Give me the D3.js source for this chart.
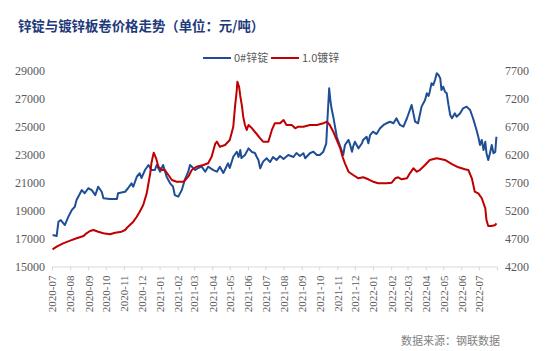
<!DOCTYPE html>
<html><head><meta charset="utf-8">
<script src="https://cdn.jsdelivr.net/npm/d3@7"></script>
<style>html,body{margin:0;padding:0;background:#fff;}svg{display:block;}</style>
</head><body>
<svg id="chart" width="554" height="351"></svg>
<script>
const title = "锌锭与镀锌板卷价格走势（单位：元/吨）";
const source = "数据来源：钢联数据";
const seriesNames = ["0#锌锭", "1.0镀锌"];
const leftTicks = [15000, 17000, 19000, 21000, 23000, 25000, 27000, 29000];
const rightTicks = [4200, 4700, 5200, 5700, 6200, 6700, 7200, 7700];

const zincDates = ["2020-07-02","2020-07-09","2020-07-12","2020-07-16","2020-07-23","2020-07-29","2020-08-04","2020-08-09","2020-08-12","2020-08-21","2020-08-26","2020-09-01","2020-09-07","2020-09-13","2020-09-18","2020-09-24","2020-09-27","2020-10-08","2020-10-20","2020-10-22","2020-11-03","2020-11-08","2020-11-14","2020-11-17","2020-11-23","2020-11-28","2020-12-01","2020-12-07","2020-12-13","2020-12-18","2020-12-24","2020-12-27","2021-01-02","2021-01-07","2021-01-13","2021-01-19","2021-01-24","2021-01-27","2021-02-02","2021-02-08","2021-02-13","2021-02-19","2021-02-22","2021-03-03","2021-03-08","2021-03-14","2021-03-20","2021-03-25","2021-04-03","2021-04-09","2021-04-14","2021-04-20","2021-04-28","2021-05-01","2021-05-07","2021-05-13","2021-05-16","2021-05-19","2021-05-21","2021-05-27","2021-06-02","2021-06-08","2021-06-13","2021-06-16","2021-06-19","2021-06-22","2021-06-27","2021-07-03","2021-07-09","2021-07-14","2021-07-20","2021-07-26","2021-08-01","2021-08-09","2021-08-18","2021-08-23","2021-08-29","2021-09-04","2021-09-07","2021-09-15","2021-09-21","2021-09-27","2021-10-02","2021-10-08","2021-10-13","2021-10-15","2021-10-18","2021-10-20","2021-10-22","2021-10-25","2021-10-28","2021-10-31","2021-11-03","2021-11-08","2021-11-11","2021-11-14","2021-11-20","2021-11-23","2021-11-26","2021-11-28","2021-12-01","2021-12-07","2021-12-13","2021-12-15","2021-12-21","2021-12-24","2021-12-27","2022-01-01","2022-01-07","2022-01-13","2022-01-19","2022-01-24","2022-01-30","2022-02-05","2022-02-10","2022-02-13","2022-02-16","2022-02-22","2022-02-28","2022-03-05","2022-03-08","2022-03-11","2022-03-14","2022-03-19","2022-03-25","2022-03-31","2022-04-03","2022-04-06","2022-04-08","2022-04-11","2022-04-14","2022-04-17","2022-04-20","2022-04-23","2022-04-26","2022-04-28","2022-05-01","2022-05-04","2022-05-07","2022-05-10","2022-05-13","2022-05-16","2022-05-21","2022-05-24","2022-05-30","2022-06-04","2022-06-10","2022-06-16","2022-06-21","2022-06-27","2022-06-30","2022-07-03","2022-07-06","2022-07-09","2022-07-12","2022-07-14","2022-07-17","2022-07-20","2022-07-23","2022-07-26","2022-07-29","2022-07-31"];
const zincPrices = [17250,17180,18200,18320,17960,18560,19040,19270,19750,20460,20230,20590,20460,20100,20700,20340,19870,19820,19820,20230,20340,20590,20940,20700,21410,21660,21320,21890,22250,21890,21890,22250,21770,22250,21410,20940,20700,20100,19990,20460,21180,21770,22250,21890,22040,22130,21770,22130,21890,21770,22130,21680,22370,22040,22840,23200,22820,23320,22750,22960,23440,23180,23110,22840,22610,22010,22490,22730,22460,22820,22610,22890,22680,22960,22820,23110,22890,23090,22730,23090,23200,22960,22960,23200,23800,25460,27730,26890,26300,25700,24990,24270,23910,23320,22960,23680,24040,23680,23200,23560,23910,23440,23800,24040,24270,23800,24390,24630,24460,24870,25110,25230,25340,25230,25590,25340,25110,24990,25590,26180,26540,25940,25340,25230,26420,26890,27370,27180,27490,28090,27960,28320,28800,28680,28440,27610,27840,27490,27370,26540,25820,25590,25940,25700,25940,26300,26420,26180,25590,24750,24270,23680,24040,23320,23910,23090,22610,23090,23680,23090,23180,24270];

const galvDates = ["2020-07-02","2020-07-09","2020-07-20","2020-08-01","2020-08-12","2020-08-24","2020-08-29","2020-09-04","2020-09-10","2020-09-18","2020-09-27","2020-10-08","2020-10-17","2020-10-28","2020-11-03","2020-11-08","2020-11-17","2020-11-23","2020-11-28","2020-12-04","2020-12-10","2020-12-13","2020-12-16","2020-12-18","2020-12-21","2020-12-22","2020-12-26","2020-12-30","2021-01-05","2021-01-10","2021-01-16","2021-01-22","2021-01-30","2021-02-11","2021-02-19","2021-02-25","2021-03-05","2021-03-17","2021-03-25","2021-03-31","2021-04-06","2021-04-09","2021-04-14","2021-04-23","2021-05-01","2021-05-07","2021-05-10","2021-05-13","2021-05-14","2021-05-17","2021-05-19","2021-05-22","2021-05-24","2021-05-27","2021-05-30","2021-06-02","2021-06-08","2021-06-16","2021-06-22","2021-06-27","2021-07-06","2021-07-12","2021-07-17","2021-07-26","2021-08-01","2021-08-06","2021-08-15","2021-08-21","2021-08-26","2021-09-04","2021-09-15","2021-09-27","2021-10-08","2021-10-14","2021-10-19","2021-10-25","2021-10-31","2021-11-06","2021-11-10","2021-11-14","2021-11-20","2021-11-28","2021-12-07","2021-12-15","2021-12-24","2022-01-01","2022-01-10","2022-01-24","2022-02-02","2022-02-08","2022-02-13","2022-02-19","2022-02-28","2022-03-05","2022-03-11","2022-03-17","2022-03-22","2022-03-31","2022-04-08","2022-04-20","2022-05-04","2022-05-16","2022-05-27","2022-06-07","2022-06-13","2022-06-19","2022-06-24","2022-06-30","2022-07-06","2022-07-12","2022-07-14","2022-07-17","2022-07-23","2022-07-29","2022-07-31"];
const galvPrices = [4507,4554,4614,4661,4704,4745,4793,4834,4852,4821,4793,4775,4804,4821,4852,4911,5000,5089,5179,5298,5507,5686,5864,6043,6191,6232,6132,5982,5923,5923,5834,5745,5714,5714,5804,5923,5982,6012,6043,6161,6388,6429,6339,6370,6459,6696,7054,7352,7500,7405,7245,7054,6875,6727,6638,6727,6668,6566,6489,6429,6429,6638,6757,6757,6816,6727,6727,6668,6696,6696,6727,6727,6757,6786,6727,6607,6459,6311,6155,6043,5893,5834,5775,5793,5757,5714,5686,5686,5696,5775,5793,5757,5775,5864,5953,5893,5923,6012,6102,6132,6102,6030,5971,5936,5923,5775,5536,5507,5418,5239,5030,4923,4923,4941,4971];

const parse = d3.timeParse("%Y-%m-%d");
const svg = d3.select("#chart");
const x = d3.scaleTime().domain([parse("2020-07-01"), parse("2022-08-01")]).range([52, 497]);
const yL = d3.scaleLinear().domain([15000, 29000]).range([266.5, 70.5]);
const yR = d3.scaleLinear().domain([4200, 7700]).range([266.5, 70.5]);

const gray = "#595959";
const serif = "'Liberation Serif','Times New Roman',serif";
const blue = "#1f4e96", red = "#c00000";

// title
svg.append("text").attr("x", 18).attr("y", 31).text(title)
  .attr("font-family", "'Noto Sans CJK SC',sans-serif").attr("font-weight", "bold")
  .attr("font-size", "13.4px").attr("fill", "#1f3a7a");

// x axis
const months = d3.timeMonth.range(parse("2020-07-01"), parse("2022-08-01"));
const xAxis = d3.axisBottom(x).tickValues(months).tickFormat(d3.timeFormat("%Y-%m"))
  .tickSize(4).tickSizeOuter(4);
const gx = svg.append("g").attr("transform", "translate(0,266.5)").call(xAxis);
gx.select(".domain").attr("stroke", "#d9d9d9");
gx.selectAll(".tick line").attr("stroke", "#d9d9d9");
gx.selectAll(".tick text").attr("font-family", serif).attr("font-size", "11px").attr("fill", gray)
  .attr("transform", "rotate(-90)").attr("text-anchor", "end")
  .attr("x", -9).attr("y", 0).attr("dy", "0.35em");

// left y axis (labels only)
const gl = svg.append("g").attr("transform", "translate(45,0)")
  .call(d3.axisLeft(yL).tickValues(leftTicks).tickFormat(d3.format("d")).tickSize(0).tickPadding(0));
gl.select(".domain").remove();
gl.selectAll("text").attr("font-family", serif).attr("font-size", "12px").attr("fill", gray);

// right y axis (labels only)
const gr = svg.append("g").attr("transform", "translate(505,0)")
  .call(d3.axisRight(yR).tickValues(rightTicks).tickFormat(d3.format("d")).tickSize(0).tickPadding(0));
gr.select(".domain").remove();
gr.selectAll("text").attr("font-family", serif).attr("font-size", "12px").attr("fill", gray);

// lines
const zinc = zincDates.map((d, i) => ({ d: parse(d), v: zincPrices[i] }));
const galv = galvDates.map((d, i) => ({ d: parse(d), v: galvPrices[i] }));
svg.append("path").datum(zinc)
  .attr("d", d3.line().x(p => x(p.d)).y(p => yL(p.v)))
  .attr("fill", "none").attr("stroke", blue).attr("stroke-width", 2).attr("stroke-linejoin", "round");
svg.append("path").datum(galv)
  .attr("d", d3.line().x(p => x(p.d)).y(p => yR(p.v)))
  .attr("fill", "none").attr("stroke", red).attr("stroke-width", 2).attr("stroke-linejoin", "round");

// legend
const legend = [{ name: seriesNames[0], color: blue, x: 203 }, { name: seriesNames[1], color: red, x: 271 }];
legend.forEach(l => {
  svg.append("line").attr("x1", l.x).attr("x2", l.x + 28).attr("y1", 58).attr("y2", 58)
    .attr("stroke", l.color).attr("stroke-width", 2);
  svg.append("text").attr("x", l.x + 31).attr("y", 58).attr("dy", "0.35em").text(l.name)
    .attr("font-family", "'Noto Sans CJK SC',sans-serif").attr("font-size", "11px").attr("fill", gray);
});

// source
svg.append("text").attr("x", 500).attr("y", 345).attr("text-anchor", "end").text(source)
  .attr("font-family", "'Noto Sans CJK SC',sans-serif").attr("font-size", "11px").attr("fill", "#7f7f7f");
</script>
</body></html>
